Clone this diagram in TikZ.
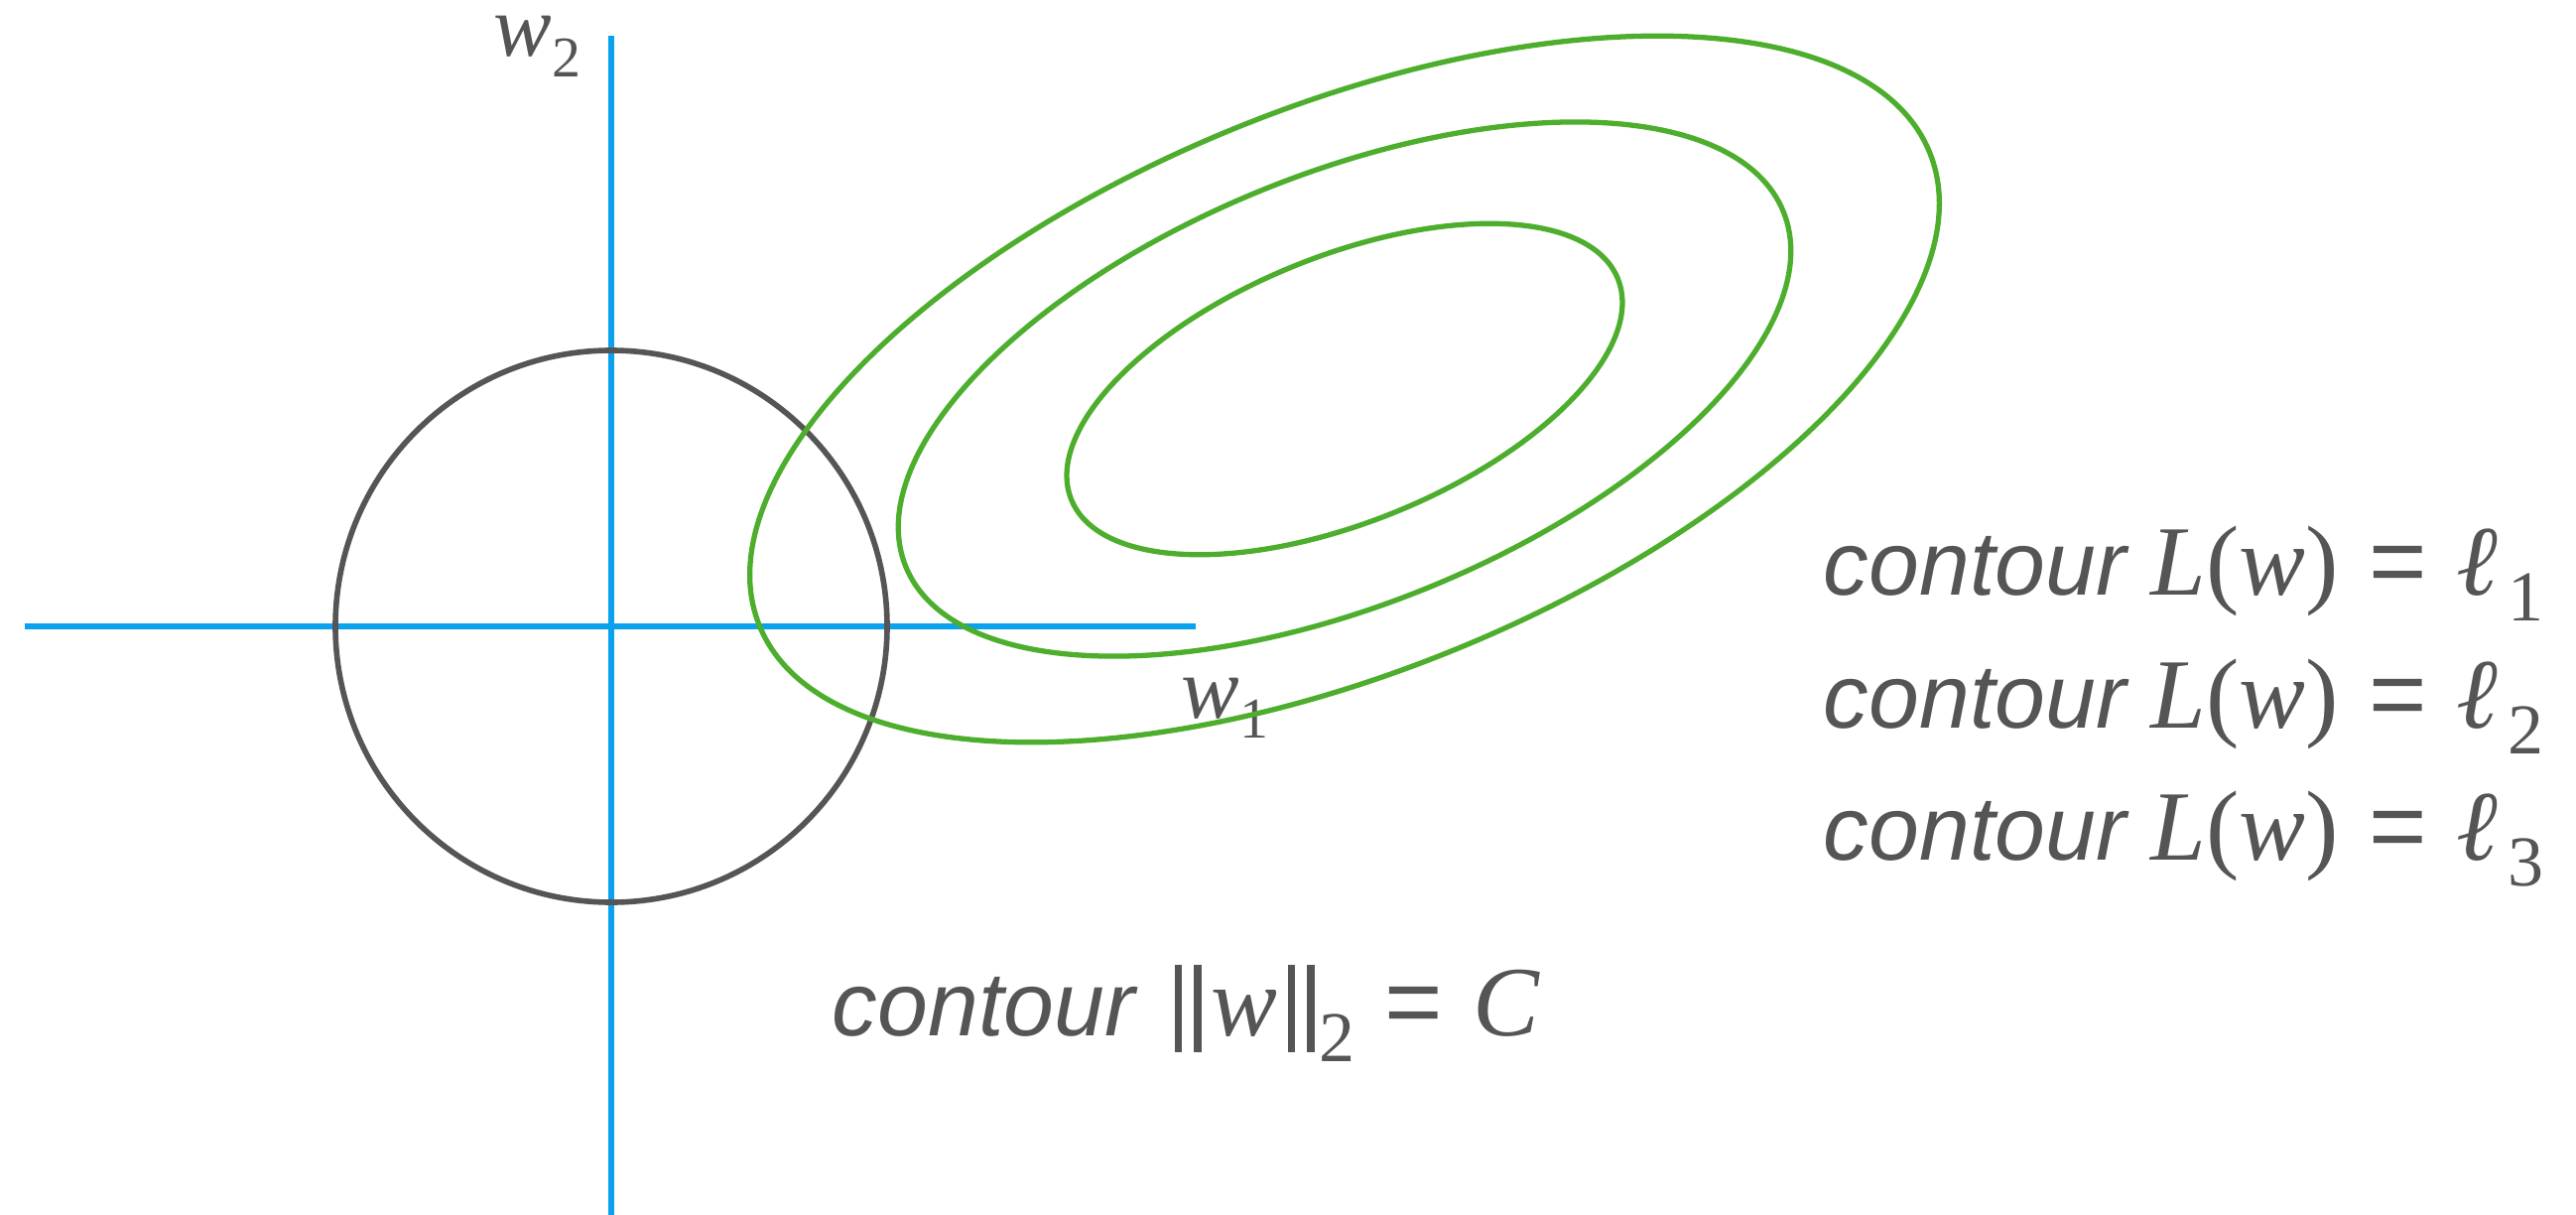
\documentclass[tikz,border=0pt]{standalone}
\usepackage{fontspec}
\setmainfont{Liberation Serif}
\newfontfamily\labelsans{Liberation Sans}
\usetikzlibrary{positioning}
\definecolor{axisBlue}{HTML}{0AA2EE}
\definecolor{lossGreen}{HTML}{4DAE2D}
\definecolor{inkGray}{HTML}{555555}
\newcommand{\contourword}{{\fontsize{26}{31}\selectfont\labelsans\itshape contour}}
\newcommand{\eqsign}{\hspace{0.3em}{\labelsans =}\hspace{0.3em}}
\newcommand{\bigsub}[1]{\raisebox{-0.26em}{\fontsize{20.5}{24}\selectfont #1}}
\newcommand{\axsub}[1]{\raisebox{-0.23em}{\fontsize{16.5}{20}\selectfont #1}}
\newcommand{\normbar}{\raisebox{-0.17em}{\rule{0.075em}{0.88em}}}
\tikzset{
    axisline/.style={draw=axisBlue,line width=1.45pt},
    normball/.style={draw=inkGray,line width=1.6pt},
    losscontour/.style={draw=lossGreen,line width=1.5pt},
    contourlabel/.style={text=inkGray,anchor=base west,inner sep=0pt,
        font=\fontsize{28.5}{34}\selectfont},
    axislabel/.style={text=inkGray,anchor=base west,inner sep=0pt,
        text height=0.45em,font=\fontsize{25}{30}\selectfont}
}
\begin{document}
\begin{tikzpicture}[x=0.01cm,y=-0.01cm]
        \useasboundingbox (0,0) rectangle (2596,1224);
        % 坐标轴
        \coordinate (o) at (616,631);
        \coordinate (xleft) at (25,631);
        \coordinate (xright) at (1205,631);
        \coordinate (ytop) at (616,36);
        \coordinate (ybot) at (616,1224);
        \draw[axisline] (xleft) -- (xright);
        \draw[axisline] (ytop) -- (ybot);
        \node[axislabel] (wtwo) at (497,57) {\textit{w}\axsub{2}};
        \node[axislabel] (wone) at (1190,723) {\textit{w}\axsub{1}};

        % L2 球：||w||_2 = C
        \draw[normball] (o) circle[radius=278];

        % 损失函数等高线，三个同心椭圆
        \begin{scope}[shift={(1355,392)},rotate=22]
            \foreach \ra/\rb in {636/285,477/217,297/134}
                \draw[losscontour] (0,0) ellipse[x radius=\ra,y radius=\rb];
        \end{scope}

        \node[contourlabel] (lossone) at (1837,599)
            {\contourword\ \textit{L}(\textit{w})\eqsign\textit{ℓ}\hspace{0.1em}\bigsub{1}};
        \node[contourlabel] (losstwo) at (1837,733)
            {\contourword\ \textit{L}(\textit{w})\eqsign\textit{ℓ}\hspace{0.1em}\bigsub{2}};
        \node[contourlabel] (lossthree) at (1837,866)
            {\contourword\ \textit{L}(\textit{w})\eqsign\textit{ℓ}\hspace{0.1em}\bigsub{3}};
        \node[contourlabel] (ballC) at (838,1043)
            {\contourword\hspace{0.4em}\normbar\hspace{0.12em}\normbar\hspace{0.1em}\textit{w}\hspace{0.1em}\normbar\hspace{0.12em}\normbar\hspace{0.05em}\bigsub{2}\eqsign\textit{C}};
    \end{tikzpicture}
\end{document}
